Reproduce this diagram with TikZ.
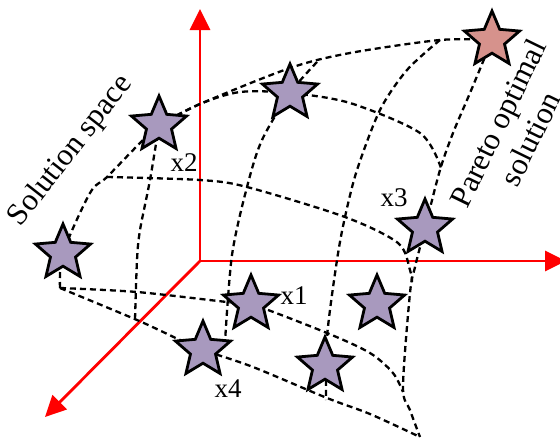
\documentclass[tikz,border=0pt]{standalone}
\usepackage{fontspec}
\setmainfont{Liberation Serif}
\usetikzlibrary{shapes.geometric,arrows.meta,backgrounds}

\definecolor{starfill}{RGB}{168,153,190}
\definecolor{paretofill}{RGB}{214,146,140}

\begin{document}
\begin{tikzpicture}[
  x=1pt, y=-1pt,
  font=\fontsize{27}{31}\selectfont,
  every node/.style={inner sep=0pt},
  pstar/.style={star, star points=5, star point ratio=2.2, minimum size=58pt,
    draw=black, line width=2.8pt, fill=starfill},
  mesh/.style={black, line width=2.3pt, dash pattern=on 6pt off 4pt},
  axis/.style={red, line width=2.8pt, -{Triangle[length=21pt,width=20pt]}},
  big/.style={font=\fontsize{31}{36}\selectfont}
]
\useasboundingbox (0,0) rectangle (560,439);

% solutions
\node[pstar] (sl) at (63,253) {};
\node[pstar] (x2) at (159,125) {};
\node[pstar] (stop) at (290,93) {};
\node[pstar, fill=paretofill] (spar) at (492,40) {};
\node[pstar] (x3) at (425,228) {};
\node[pstar] (x1) at (251,304) {};
\node[pstar] (x4) at (203,350) {};
\node[pstar] (sa) at (377,304) {};
\node[pstar] (sb) at (325,366) {};

% labels
\node (lx1) at (294,296) {x1};
\node (lx2) at (184,163) {x2};
\node (lx3) at (394,198) {x3};
\node (lx4) at (228,389) {x4};
\node[big, rotate=52] (lsol) at (71,151) {Solution space};
\node[big, rotate=64, align=center] (lpar) at (514,131) {Pareto optimal\\solution};

\begin{scope}[on background layer]
% axes
\coordinate (o) at (200,261);
\coordinate (ztip) at (200,9);
\coordinate (xtip) at (566,261);
\coordinate (ytip) at (45,417);
\draw[axis] (o) -- (ztip);
\draw[axis] (o) -- (xtip);
\draw[axis] (o) -- (ytip);

% surface grid
\draw[mesh] plot[smooth] coordinates {(x2.center) (200,104) (290,68) (350,53) (440,40) (spar.center)};
\draw[mesh] plot[smooth] coordinates {(x2.center) (200,104) (240,92) (stop.center) (350,103) (420,133) (441,168)};
\draw[mesh] plot[smooth] coordinates {(107,177) (200,180) (247,187) (345,217) (398,243) (410,270) (412,282)};
\draw[mesh] plot[smooth] coordinates {(60,288) (137,292) (227,302) (x1.center) (327,333) (370,353) (393,373) (403,392)};
\draw[mesh] plot[smooth] coordinates {(60,288) (137,320) (180,340) (x4.center) (253,367) (327,398) (370,414) (420,437)};
\draw[mesh] plot[smooth] coordinates {(60,288) (sl.center) (90,193) (107,177) (140,143) (x2.center)};
\draw[mesh] plot[smooth] coordinates {(x2.center) (150,180) (140,230) (137,260) (135,320)};
\draw[mesh] plot[smooth] coordinates {(317,62) (stop.center) (262,140) (247,187) (232,255) (225,342)};
\draw[mesh] plot[smooth] coordinates {(440,40) (407,70) (380,110) (357,170) (345,217) (337,260) (327,337) (326,400)};
\draw[mesh] plot[smooth] coordinates {(spar.center) (470,93) (453,133) (440,170) (x3.center) (415,267) (410,293) (403,387) (410,410) (420,437)};
\end{scope}
\end{tikzpicture}
\end{document}
